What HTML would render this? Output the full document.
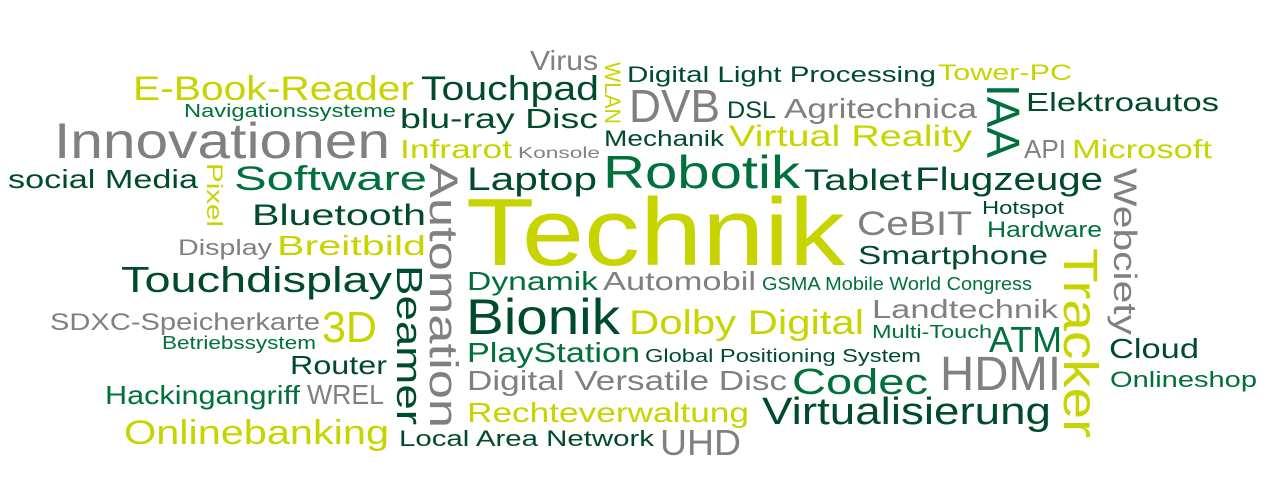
<!DOCTYPE html>
<html><head><meta charset="utf-8"><style>
html,body{margin:0;padding:0;background:#fff;}
svg{display:block;}
text{font-family:"Liberation Sans",sans-serif;}
.y{fill:#c8d400}.g{fill:#808080}.d{fill:#004b2b}.m{fill:#00703c}
</style></head><body>
<svg width="1280" height="480" viewBox="0 0 1280 480">
<g lengthAdjust="spacingAndGlyphs">
<text class="g" x="530" y="70" font-size="28" textLength="68" lengthAdjust="spacingAndGlyphs">Virus</text>
<text class="d" x="627" y="82" font-size="22" textLength="309" lengthAdjust="spacingAndGlyphs">Digital Light Processing</text>
<text class="y" x="938" y="80" font-size="22" textLength="134" lengthAdjust="spacingAndGlyphs">Tower-PC</text>
<text class="y" x="133" y="100" font-size="34" textLength="281" lengthAdjust="spacingAndGlyphs">E-Book-Reader</text>
<text class="d" x="421" y="100" font-size="34" textLength="178" lengthAdjust="spacingAndGlyphs">Touchpad</text>
<text class="m" x="184" y="117" font-size="18" textLength="212" lengthAdjust="spacingAndGlyphs">Navigationssysteme</text>
<text class="g" x="629" y="122" font-size="46" textLength="91" lengthAdjust="spacingAndGlyphs">DVB</text>
<text class="d" x="727" y="118" font-size="24" textLength="49" lengthAdjust="spacingAndGlyphs">DSL</text>
<text class="g" x="784" y="118" font-size="28" textLength="193" lengthAdjust="spacingAndGlyphs">Agritechnica</text>
<text class="d" x="1026" y="111" font-size="26" textLength="193" lengthAdjust="spacingAndGlyphs">Elektroautos</text>
<text class="g" x="54" y="158" font-size="50" textLength="336" lengthAdjust="spacingAndGlyphs">Innovationen</text>
<text class="d" x="400" y="128" font-size="28" textLength="198" lengthAdjust="spacingAndGlyphs">blu-ray Disc</text>
<text class="d" x="604" y="146" font-size="22" textLength="120" lengthAdjust="spacingAndGlyphs">Mechanik</text>
<text class="y" x="729" y="146" font-size="30" textLength="243" lengthAdjust="spacingAndGlyphs">Virtual Reality</text>
<text class="y" x="400" y="158" font-size="26" textLength="112" lengthAdjust="spacingAndGlyphs">Infrarot</text>
<text class="g" x="518" y="158" font-size="16" textLength="82" lengthAdjust="spacingAndGlyphs">Konsole</text>
<text class="g" x="1024" y="158" font-size="26" textLength="42" lengthAdjust="spacingAndGlyphs">API</text>
<text class="y" x="1072" y="158" font-size="26" textLength="140" lengthAdjust="spacingAndGlyphs">Microsoft</text>
<text class="m" x="603" y="188" font-size="46" textLength="197" lengthAdjust="spacingAndGlyphs">Robotik</text>
<text class="d" x="8" y="188" font-size="26" textLength="190" lengthAdjust="spacingAndGlyphs">social Media</text>
<text class="m" x="234" y="190" font-size="34" textLength="193" lengthAdjust="spacingAndGlyphs">Software</text>
<text class="d" x="467" y="190" font-size="32" textLength="130" lengthAdjust="spacingAndGlyphs">Laptop</text>
<text class="d" x="804" y="190" font-size="30" textLength="108" lengthAdjust="spacingAndGlyphs">Tablet</text>
<text class="d" x="915" y="190" font-size="32" textLength="188" lengthAdjust="spacingAndGlyphs">Flugzeuge</text>
<text class="d" x="252" y="225" font-size="30" textLength="174" lengthAdjust="spacingAndGlyphs">Bluetooth</text>
<text class="y" x="466" y="265" font-size="96" textLength="379" lengthAdjust="spacingAndGlyphs">Technik</text>
<text class="g" x="857" y="235" font-size="34" textLength="115" lengthAdjust="spacingAndGlyphs">CeBIT</text>
<text class="d" x="982" y="214" font-size="18" textLength="82" lengthAdjust="spacingAndGlyphs">Hotspot</text>
<text class="m" x="987" y="237" font-size="22" textLength="115" lengthAdjust="spacingAndGlyphs">Hardware</text>
<text class="g" x="178" y="255" font-size="22" textLength="94" lengthAdjust="spacingAndGlyphs">Display</text>
<text class="y" x="277" y="255" font-size="28" textLength="149" lengthAdjust="spacingAndGlyphs">Breitbild</text>
<text class="d" x="858" y="264" font-size="26" textLength="190" lengthAdjust="spacingAndGlyphs">Smartphone</text>
<text class="d" x="121" y="292" font-size="36" textLength="271" lengthAdjust="spacingAndGlyphs">Touchdisplay</text>
<text class="m" x="467" y="290" font-size="26" textLength="131" lengthAdjust="spacingAndGlyphs">Dynamik</text>
<text class="g" x="603" y="290" font-size="26" textLength="153" lengthAdjust="spacingAndGlyphs">Automobil</text>
<text class="m" x="762" y="290" font-size="18" textLength="270" lengthAdjust="spacingAndGlyphs">GSMA Mobile World Congress</text>
<text class="g" x="872" y="318" font-size="26" textLength="186" lengthAdjust="spacingAndGlyphs">Landtechnik</text>
<text class="g" x="50" y="330" font-size="24" textLength="270" lengthAdjust="spacingAndGlyphs">SDXC-Speicherkarte</text>
<text class="y" x="322" y="342" font-size="44" textLength="55" lengthAdjust="spacingAndGlyphs">3D</text>
<text class="d" x="466" y="334" font-size="50" textLength="154" lengthAdjust="spacingAndGlyphs">Bionik</text>
<text class="y" x="629" y="334" font-size="34" textLength="235" lengthAdjust="spacingAndGlyphs">Dolby Digital</text>
<text class="m" x="872" y="338" font-size="18" textLength="120" lengthAdjust="spacingAndGlyphs">Multi-Touch</text>
<text class="m" x="989" y="352" font-size="36" textLength="73" lengthAdjust="spacingAndGlyphs">ATM</text>
<text class="m" x="162" y="349" font-size="18" textLength="154" lengthAdjust="spacingAndGlyphs">Betriebssystem</text>
<text class="d" x="290" y="374" font-size="26" textLength="97" lengthAdjust="spacingAndGlyphs">Router</text>
<text class="m" x="467" y="362" font-size="28" textLength="173" lengthAdjust="spacingAndGlyphs">PlayStation</text>
<text class="d" x="645" y="362" font-size="18" textLength="276" lengthAdjust="spacingAndGlyphs">Global Positioning System</text>
<text class="d" x="1109" y="358" font-size="28" textLength="90" lengthAdjust="spacingAndGlyphs">Cloud</text>
<text class="g" x="940" y="390" font-size="48" textLength="121" lengthAdjust="spacingAndGlyphs">HDMI</text>
<text class="g" x="467" y="390" font-size="28" textLength="320" lengthAdjust="spacingAndGlyphs">Digital Versatile Disc</text>
<text class="m" x="792" y="394" font-size="36" textLength="136" lengthAdjust="spacingAndGlyphs">Codec</text>
<text class="m" x="1110" y="387" font-size="22" textLength="147" lengthAdjust="spacingAndGlyphs">Onlineshop</text>
<text class="m" x="105" y="404" font-size="26" textLength="195" lengthAdjust="spacingAndGlyphs">Hackingangriff</text>
<text class="g" x="307" y="404" font-size="28" textLength="77" lengthAdjust="spacingAndGlyphs">WREL</text>
<text class="y" x="467" y="422" font-size="28" textLength="282" lengthAdjust="spacingAndGlyphs">Rechteverwaltung</text>
<text class="d" x="762" y="424" font-size="38" textLength="289" lengthAdjust="spacingAndGlyphs">Virtualisierung</text>
<text class="y" x="124" y="444" font-size="34" textLength="265" lengthAdjust="spacingAndGlyphs">Onlinebanking</text>
<text class="d" x="399" y="446" font-size="22" textLength="255" lengthAdjust="spacingAndGlyphs">Local Area Network</text>
<text class="g" x="660" y="455" font-size="36" textLength="81" lengthAdjust="spacingAndGlyphs">UHD</text>

<text class="y" transform="translate(605,62) rotate(90)" font-size="22" textLength="62" lengthAdjust="spacingAndGlyphs">WLAN</text>
<text class="m" transform="translate(987,84) rotate(90)" font-size="46" textLength="74" lengthAdjust="spacingAndGlyphs">IAA</text>
<text class="y" transform="translate(207,163) rotate(90)" font-size="22" textLength="64" lengthAdjust="spacingAndGlyphs">Pixel</text>
<text class="g" transform="translate(430,163) rotate(90)" font-size="40" textLength="265" lengthAdjust="spacingAndGlyphs">Automation</text>
<text class="d" transform="translate(397,265) rotate(90)" font-size="36" textLength="160" lengthAdjust="spacingAndGlyphs">Beamer</text>
<text class="g" transform="translate(1114,168) rotate(90)" font-size="32" textLength="167" lengthAdjust="spacingAndGlyphs">Webciety</text>
<text class="y" transform="translate(1064,248) rotate(90)" font-size="48" textLength="190" lengthAdjust="spacingAndGlyphs">Tracker</text>
</g>
</svg>
</body></html>
